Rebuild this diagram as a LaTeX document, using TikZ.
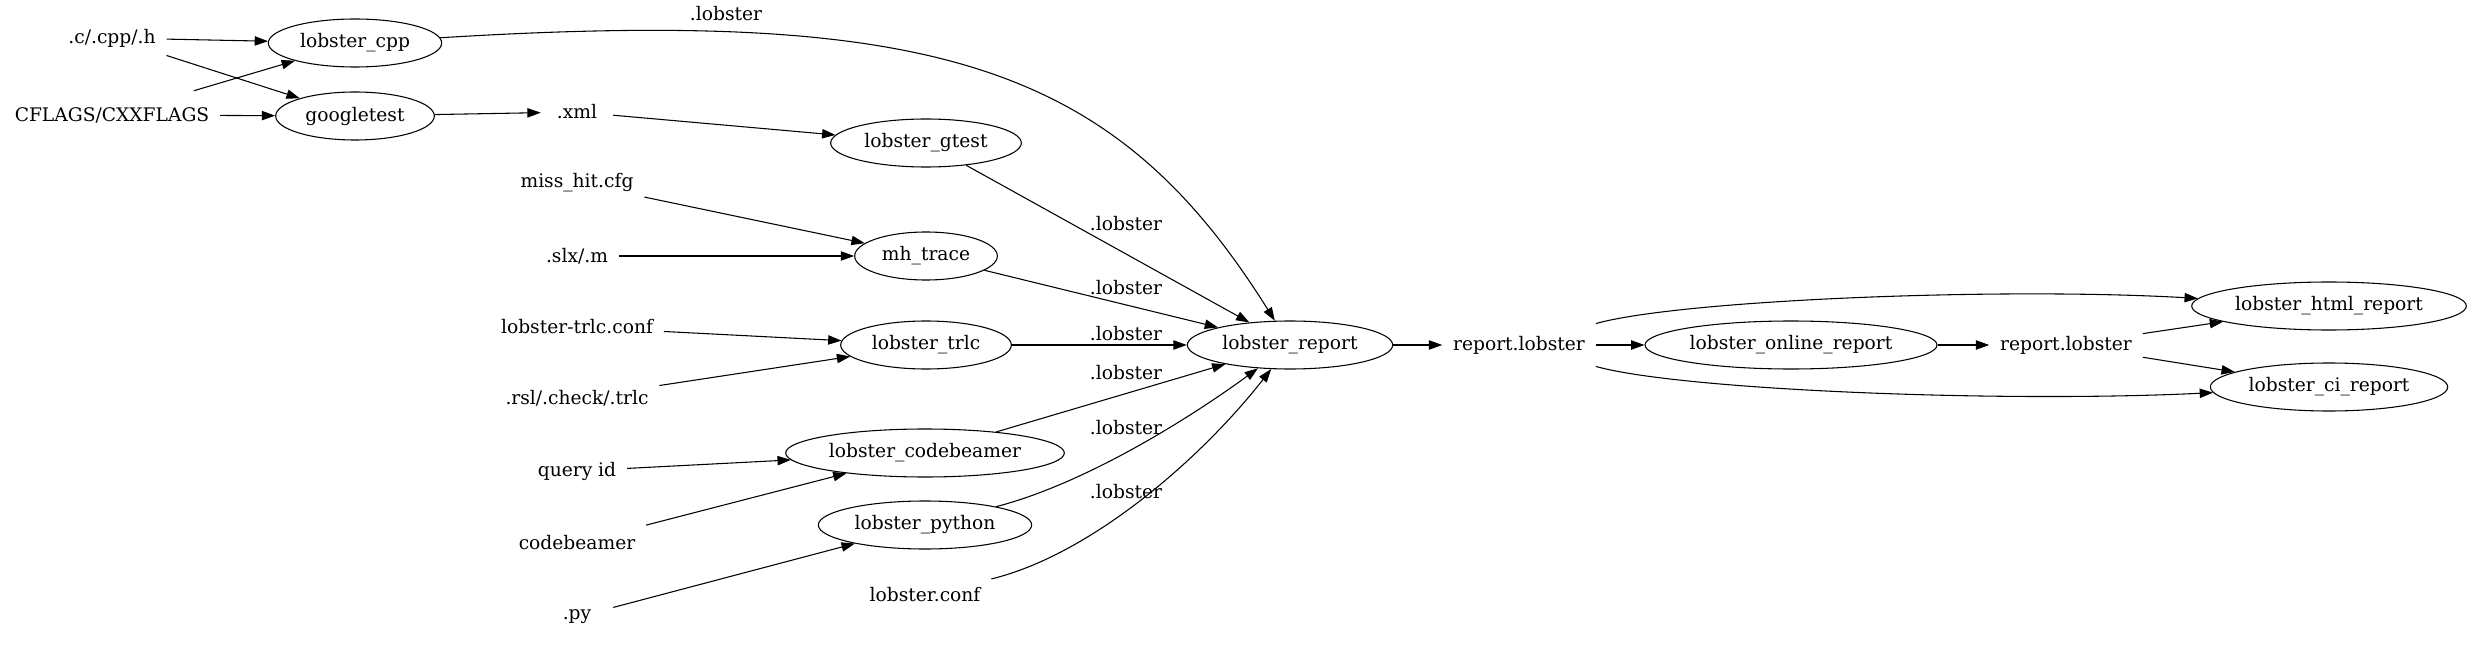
\documentclass[tikz,border=0pt]{standalone}
\usepackage{fontspec}
\setmainfont{DejaVu Serif}
\usetikzlibrary{shapes.geometric}
\usetikzlibrary{arrows.meta}

\tikzset{
	prog/.style={draw, ellipse, line width=0.8pt, inner sep=0pt, minimum height=36pt},
	file/.style={inner xsep=8pt, inner ysep=0pt, minimum width=54pt, minimum height=36pt},
	flow/.style={line width=0.8pt, -{Triangle[length=10pt,width=7pt]}},
}

\begin{document}
\begin{tikzpicture}[x=0.75pt, y=-0.75pt, font=\fontsize{14pt}{16pt}\selectfont]
\useasboundingbox (0,0) rectangle (2472,645);

\node[file] (cfile) at (112,38) {.c/.cpp/.h};
\node[file] (cflags) at (112,115) {CFLAGS/CXXFLAGS};

\node[prog, minimum width=130pt] (cpp) at (355,43) {lobster\_cpp};
\node[prog, minimum width=119pt] (gbin) at (355,116) {googletest};

\node[file] (xml) at (577,112) {.xml};
\node[file] (misshit) at (577,183) {miss\_hit.cfg};
\node[file] (slx) at (577,256) {.slx/.m};
\node[file] (trlcconf) at (577,327) {lobster-trlc.conf};
\node[file] (rsl) at (577,398) {.rsl/.check/.trlc};
\node[file] (query) at (577,471) {query id};
\node[file] (cbserver) at (577,543) {codebeamer};
\node[file] (py) at (577,617) {.py};

\node[prog, minimum width=143pt] (gtest) at (926,143) {lobster\_gtest};
\node[prog, minimum width=107pt] (mh) at (926,256) {mh\_trace};
\node[prog, minimum width=128pt] (trlc) at (926,345) {lobster\_trlc};
\node[prog, minimum width=209pt] (cb) at (925,453) {lobster\_codebeamer};
\node[prog, minimum width=160pt] (python) at (925,525) {lobster\_python};
\node[file] (conf) at (925,595) {lobster.conf};

\node[prog, minimum width=154pt] (report) at (1290,345) {lobster\_report};
\node[file] (rl1) at (1519,345) {report.lobster};
\node[prog, minimum width=219pt] (online) at (1791,345) {lobster\_online\_report};
\node[file] (rl2) at (2066,345) {report.lobster};
\node[prog, minimum width=206pt] (html) at (2329,306) {lobster\_html\_report};
\node[prog, minimum width=178pt] (ci) at (2329,387) {lobster\_ci\_report};

\node (lcpp) at (726,14) {.lobster};
\foreach \y/\n in {224/lgtest, 288/lmh, 334/ltrlc, 373/lcb, 428/lpy, 492/lconf} {
	\node (\n) at (1126,\y) {.lobster};
}

\draw[flow] (cfile) -- (cpp);
\draw[flow] (cfile) -- (gbin);
\draw[flow] (cflags) -- (cpp);
\draw[flow] (cflags) -- (gbin);
\draw[flow] (gbin) -- (xml);
\draw[flow] (xml) -- (gtest);
\draw[flow] (misshit) -- (mh);
\draw[flow] (slx) -- (mh);
\draw[flow] (trlcconf) -- (trlc);
\draw[flow] (rsl) -- (trlc);
\draw[flow] (query) -- (cb);
\draw[flow] (cbserver) -- (cb);
\draw[flow] (py) -- (python);

\draw[flow] (cpp) .. controls (940,7) and (1116,67) .. (report);
\draw[flow] (gtest) -- (report);
\draw[flow] (mh) -- (report);
\draw[flow] (trlc) -- (report);
\draw[flow] (cb) -- (report);
\draw[flow] (python) .. controls (1080,485) and (1180,425) .. (report);
\draw[flow] (conf) .. controls (1090,555) and (1200,460) .. (report);

\draw[flow] (report) -- (rl1);
\draw[flow] (rl1) -- (online);
\draw[flow] (rl1) .. controls (1680,300) and (2000,287) .. (html);
\draw[flow] (rl1) .. controls (1680,390) and (2000,403) .. (ci);
\draw[flow] (online) -- (rl2);
\draw[flow] (rl2) -- (html);
\draw[flow] (rl2) -- (ci);

\end{tikzpicture}
\end{document}
